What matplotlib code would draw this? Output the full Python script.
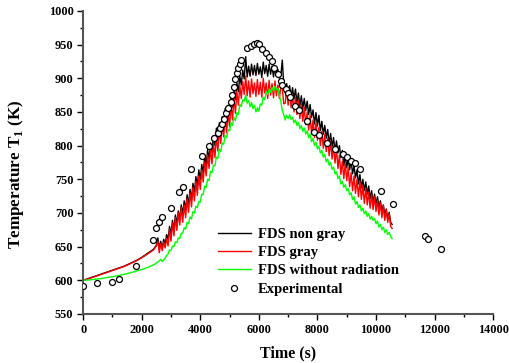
import numpy as np
import matplotlib
matplotlib.use("Agg")
import matplotlib.pyplot as plt

plt.rcParams['font.family'] = ['Liberation Serif', 'DejaVu Serif']
plt.rcParams['font.weight'] = 'bold'
plt.rcParams['mathtext.fontset'] = 'custom'
plt.rcParams['mathtext.rm'] = 'Liberation Serif:bold'

# simulation time grid (s): coarse before the fire, 50 s afterwards
time = np.r_[np.arange(0, 2400, 200), np.arange(2400, 10551, 50)]

smooth_nongray = [600, 603, 606, 609, 612, 615, 618, 621, 625, 629, 634, 640]
smooth_gray = [600, 602.5, 605.5, 608.5, 611.5, 614.5, 617.5, 620.5, 624.5, 628.5, 633.5, 639]
smooth_norad = [600, 600.5, 601.5, 602.5, 604, 605.5, 607, 609, 611, 613.5, 616, 619]

fds_nongray = smooth_nongray + [
    646, 649, 652, 663, 648, 658, 647, 661, 653, 668,
    660, 680, 668, 689, 676, 697, 684, 703, 691, 712,
    698, 718, 705, 727, 712, 735, 720, 744, 731, 754,
    740, 764, 749, 772, 759, 785, 769, 794, 780, 804,
    790, 814, 800, 826, 810, 834, 819, 843, 830, 855,
    840, 860, 848, 873, 857, 882, 868, 893, 880, 903,
    890, 912, 899, 932, 902, 918, 903, 921, 905, 919,
    904, 922, 906, 917, 901, 924, 907, 919, 903, 921,
    906, 918, 902, 916, 905, 913, 900, 904, 927, 890,
    878, 892, 874, 889, 871, 886, 869, 884, 864, 878,
    858, 874, 855, 870, 852, 866, 846, 861, 842, 853,
    832, 849, 829, 845, 822, 836, 817, 830, 811, 824,
    803, 818, 798, 812, 792, 807, 789, 800, 782, 793,
    770, 786, 767, 781, 764, 778, 758, 770, 752, 764,
    743, 757, 737, 750, 733, 746, 728, 740, 721, 733,
    716, 728, 713, 724, 708, 718, 703, 712, 697, 706,
    691, 701, 686, 683]

fds_gray = smooth_gray + [
    645, 648, 651, 658, 641, 654, 644, 657, 648, 662,
    651, 676, 658, 685, 666, 693, 674, 700, 682, 708,
    686, 712, 693, 721, 701, 730, 709, 738, 718, 747,
    726, 755, 735, 764, 746, 776, 755, 786, 766, 796,
    773, 803, 782, 814, 792, 824, 803, 834, 813, 844,
    819, 850, 828, 861, 838, 870, 848, 880, 860, 889,
    870, 895, 876, 903, 874, 896, 872, 899, 877, 893,
    873, 898, 876, 894, 872, 900, 878, 893, 870, 897,
    875, 892, 871, 896, 874, 890, 870, 888, 885, 862,
    863, 884, 860, 881, 856, 876, 850, 872, 846, 867,
    840, 862, 836, 857, 831, 850, 823, 845, 817, 838,
    812, 834, 808, 827, 800, 821, 796, 817, 791, 811,
    785, 806, 780, 800, 774, 796, 766, 786, 757, 777,
    751, 774, 748, 767, 739, 760, 733, 755, 729, 750,
    724, 747, 720, 741, 714, 737, 712, 731, 707, 727,
    705, 724, 702, 719, 697, 715, 693, 711, 689, 705,
    686, 699, 680, 677]

fds_norad = smooth_norad + [
    623, 624, 626, 627, 629, 631, 628, 630, 633, 637,
    639, 645, 644, 651, 650, 657, 656, 663, 662, 670,
    670, 678, 676, 686, 684, 694, 691, 702, 700, 710,
    708, 717, 716, 728, 727, 740, 738, 750, 748, 762,
    760, 771, 770, 783, 781, 795, 791, 804, 802, 815,
    812, 824, 822, 834, 830, 842, 837, 849, 846, 861,
    858, 868, 866, 875, 863, 867, 858, 864, 855, 860,
    850, 856, 851, 862, 860, 872, 868, 880, 876, 884,
    879, 886, 881, 888, 883, 885, 874, 866, 852, 846,
    838, 845, 840, 846, 839, 842, 834, 838, 830, 834,
    825, 830, 821, 826, 817, 822, 812, 817, 806, 811,
    800, 805, 795, 799, 789, 793, 783, 787, 776, 780,
    771, 775, 765, 768, 758, 761, 751, 755, 743, 747,
    738, 742, 733, 736, 727, 730, 720, 724, 713, 717,
    708, 712, 703, 707, 699, 703, 695, 699, 691, 695,
    689, 692, 684, 688, 679, 683, 675, 679, 671, 675,
    668, 671, 665, 662]

exp_time = [0, 478, 990, 1219, 1789, 2390, 2505, 2574, 2687, 2994, 3277, 3404,
            3687, 4053, 4302, 4473, 4609, 4667, 4758, 4804, 4895, 4950, 5032,
            5066, 5145, 5169, 5237, 5282, 5350, 5395, 5600, 5715, 5828, 5941,
            5990, 6112, 6227, 6340, 6453, 6511, 6647, 6739, 6807, 6920, 7000,
            7057, 7228, 7364, 7648, 7887, 8058, 8310, 8604, 8857, 8993, 9140,
            9276, 9447, 10164, 10584, 11656, 11779, 12202]
exp_temp = [591, 595.6, 598, 601.5, 621, 660, 677, 686, 693.6, 708, 730.7, 739,
            765, 784.7, 800, 811, 818, 825.8, 832, 839, 848, 855.5, 864,
            875, 886.7, 899, 908.4, 915, 921, 927, 944.6, 948.5, 951, 952,
            950.6, 943.6, 938, 931, 926, 915, 906.5, 896.5, 890, 883.7, 877.8,
            872.7, 859, 853, 836, 820.8, 815, 803.5, 795, 787, 782.7, 777.7,
            774.7, 765.8, 733, 713.8, 666.3, 661.8, 647]

fig = plt.figure(figsize=(5.1, 3.63), dpi=100)
ax = fig.add_axes([0.163, 0.135, 0.804, 0.835])

ax.plot(time, fds_nongray, color='black', lw=1.0, label='FDS non gray')
ax.plot(time, fds_gray, color='red', lw=1.0, label='FDS gray')
ax.plot(time, fds_norad, color='#00ff00', lw=1.0, label='FDS without radiation')
ax.plot(exp_time, exp_temp, 'o', ms=4.3, mfc='white', mec='black', mew=0.9,
        label='Experimental', zorder=5)

ax.set_xlim(0, 14000)
ax.set_ylim(550, 1000)
ax.set_xticks(np.arange(0, 14001, 2000))
ax.set_xticks(np.arange(0, 14001, 1000), minor=True)
ax.set_yticks(np.arange(550, 1001, 50))
ax.set_yticks(np.arange(550, 1001, 25), minor=True)
ax.tick_params(which='major', direction='out', length=4, width=1,
               labelsize=8.8, pad=3)
ax.tick_params(which='minor', direction='out', length=2.5, width=1)
for lbl in ax.get_xticklabels() + ax.get_yticklabels():
    lbl.set_fontweight('bold')

ax.spines['top'].set_visible(False)
ax.spines['right'].set_visible(False)
for side in ('left', 'bottom'):
    ax.spines[side].set_linewidth(1.5)
    ax.spines[side].set_color('#555555')

ax.set_xlabel('Time (s)', fontsize=11.5, fontweight='bold')
ax.xaxis.set_label_coords(0.5, -0.102)
ax.set_ylabel(r'Temperature T$_1$ (K)', fontsize=12.3, fontweight='bold')
ax.yaxis.set_label_coords(-0.14, 0.46)

ax.legend(loc='lower left', bbox_to_anchor=(0.298, 0.017), frameon=False,
          prop={'weight': 'bold', 'size': 10.5}, handlelength=2.2,
          handletextpad=0.5, labelspacing=0.35)

fig.savefig('out.png', dpi=100)
